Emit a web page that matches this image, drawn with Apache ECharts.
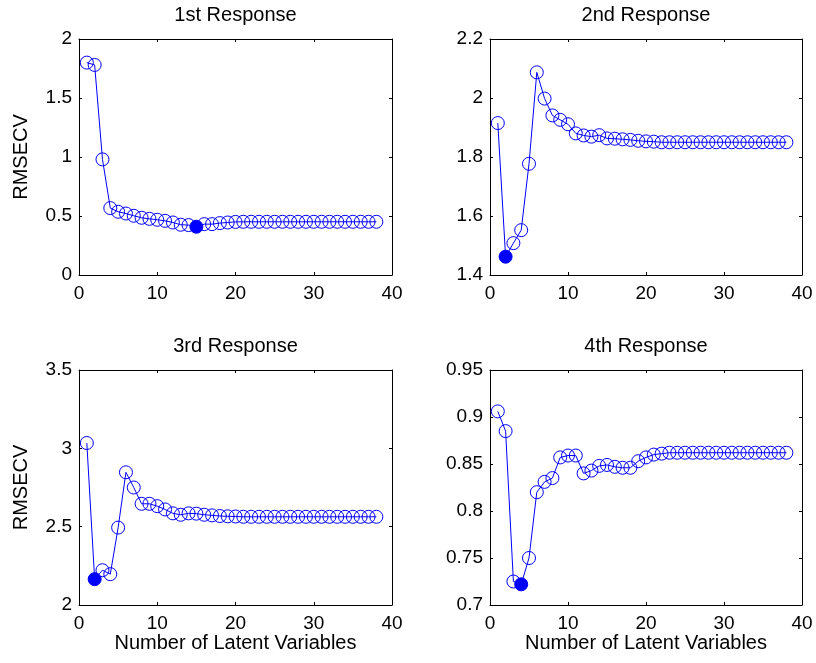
<!DOCTYPE html>
<html>
<head>
<meta charset="utf-8">
<script src="https://cdn.jsdelivr.net/npm/echarts@6/dist/echarts.min.js"></script>
<style>
  html, body { margin: 0; padding: 0; background: #fff; }
  #chart { width: 816px; height: 663px; }
</style>
</head>
<body>
<div id="chart"></div>
<script>
// ---- data ----
const nLV = [1,2,3,4,5,6,7,8,9,10,11,12,13,14,15,16,17,18,19,20,21,22,23,24,25,26,27,28,29,30,31,32,33,34,35,36,37,38];

const resp1 = [1.80, 1.78, 0.98, 0.567, 0.536, 0.521, 0.502, 0.485, 0.476, 0.468,
  0.459, 0.445, 0.426, 0.423, 0.409, 0.431, 0.431, 0.440, 0.445, 0.450,
  0.451, 0.451, 0.451, 0.451, 0.451, 0.451, 0.451, 0.451, 0.451, 0.451,
  0.451, 0.451, 0.451, 0.451, 0.451, 0.451, 0.451, 0.451];

const resp2 = [1.915, 1.462, 1.508, 1.552, 1.777, 2.087, 1.998, 1.941, 1.926, 1.911,
  1.880, 1.873, 1.869, 1.874, 1.863, 1.862, 1.860, 1.858, 1.855, 1.853,
  1.852, 1.850, 1.850, 1.850, 1.850, 1.850, 1.850, 1.850, 1.850, 1.850,
  1.850, 1.850, 1.850, 1.850, 1.850, 1.850, 1.850, 1.850];

const resp3 = [3.034, 2.165, 2.222, 2.197, 2.494, 2.847, 2.750, 2.646, 2.646, 2.631,
  2.610, 2.585, 2.576, 2.585, 2.583, 2.576, 2.572, 2.568, 2.566, 2.565,
  2.563, 2.563, 2.563, 2.563, 2.563, 2.563, 2.563, 2.563, 2.563, 2.563,
  2.563, 2.563, 2.563, 2.563, 2.563, 2.563, 2.563, 2.563];

const resp4 = [0.906, 0.885, 0.725, 0.722, 0.750, 0.820, 0.831, 0.835, 0.857, 0.859,
  0.859, 0.840, 0.843, 0.848, 0.849, 0.847, 0.846, 0.846, 0.853, 0.857,
  0.860, 0.861, 0.862, 0.862, 0.862, 0.862, 0.862, 0.862, 0.862, 0.862,
  0.862, 0.862, 0.862, 0.862, 0.862, 0.862, 0.862, 0.862];

const titles = ['1st Response', '2nd Response', '3rd Response', '4th Response'];
const minIndex = [14, 1, 1, 3];           // optimal number of latent variables (filled marker)
const yMin = [0, 1.4, 2, 0.7];
const yMax = [2, 2.2, 3.5, 0.95];
const yStep = [0.5, 0.2, 0.5, 0.05];
const xMin = 0, xMax = 40, xStep = 10;
const yName = 'RMSECV';
const xName = 'Number of Latent Variables';

// ---- layout / style ----
const FONT = 'Liberation Sans, Arial, Helvetica, sans-serif';
const BLUE = '#0000ff';
const grids = [
  { left: 79, top: 39, width: 313, height: 236 },
  { left: 490, top: 39, width: 312, height: 236 },
  { left: 79, top: 370, width: 313, height: 235 },
  { left: 490, top: 370, width: 312, height: 235 }
];
const allData = [resp1, resp2, resp3, resp4];

const axisLine = { show: true, onZero: false, lineStyle: { color: '#000', width: 1 } };
const tick = { show: true, inside: true, length: 3, lineStyle: { color: '#000', width: 1 } };
const lbl = { color: '#000', fontSize: 19, fontFamily: FONT };

const xAxes = [], yAxes = [], series = [];
for (let p = 0; p < 4; p++) {
  const bottomRow = p >= 2, leftCol = p % 2 === 0;
  xAxes.push({
    type: 'value', gridIndex: p, position: 'bottom', min: xMin, max: xMax, interval: xStep,
    axisLine, axisTick: tick, splitLine: { show: false },
    axisLabel: Object.assign({ margin: 9 }, lbl),
    name: bottomRow ? xName : '', nameLocation: 'middle', nameGap: 27,
    nameTextStyle: { color: '#000', fontSize: 20, fontFamily: FONT }
  });
  xAxes.push({
    type: 'value', gridIndex: p, position: 'top', min: xMin, max: xMax, interval: xStep,
    axisLine, axisTick: tick, splitLine: { show: false }, axisLabel: { show: false },
    name: titles[p], nameLocation: 'middle', nameGap: 14,
    nameTextStyle: { color: '#000', fontSize: 20, fontFamily: FONT }
  });
  yAxes.push({
    type: 'value', gridIndex: p, position: 'left', min: yMin[p], max: yMax[p], interval: yStep[p],
    axisLine, axisTick: tick, splitLine: { show: false },
    axisLabel: Object.assign({ margin: 7 }, lbl),
    name: leftCol ? yName : '', nameLocation: 'middle', nameGap: 48, nameRotate: 90,
    nameTextStyle: { color: '#000', fontSize: 20, fontFamily: FONT }
  });
  yAxes.push({
    type: 'value', gridIndex: p, position: 'right', min: yMin[p], max: yMax[p], interval: yStep[p],
    axisLine, axisTick: tick, splitLine: { show: false }, axisLabel: { show: false }
  });
  const vals = allData[p];
  const data = nLV.map((x, i) => {
    const item = { value: [x, vals[i]] };
    if (i === minIndex[p]) item.itemStyle = { color: BLUE, borderColor: BLUE };
    return item;
  });
  series.push({
    type: 'line', xAxisIndex: 2 * p, yAxisIndex: 2 * p,
    data, symbol: 'circle', symbolSize: 13, showAllSymbol: true,
    lineStyle: { color: BLUE, width: 1 },
    itemStyle: { color: 'rgba(0,0,0,0)', borderColor: BLUE, borderWidth: 1 },
    emphasis: { disabled: true }, animation: false, z: 3
  });
}

const chart = echarts.init(document.getElementById('chart'), null, { renderer: 'canvas' });
chart.setOption({
  backgroundColor: '#fff',
  animation: false,
  grid: grids,
  xAxis: xAxes,
  yAxis: yAxes,
  series
});
</script>
</body>
</html>
